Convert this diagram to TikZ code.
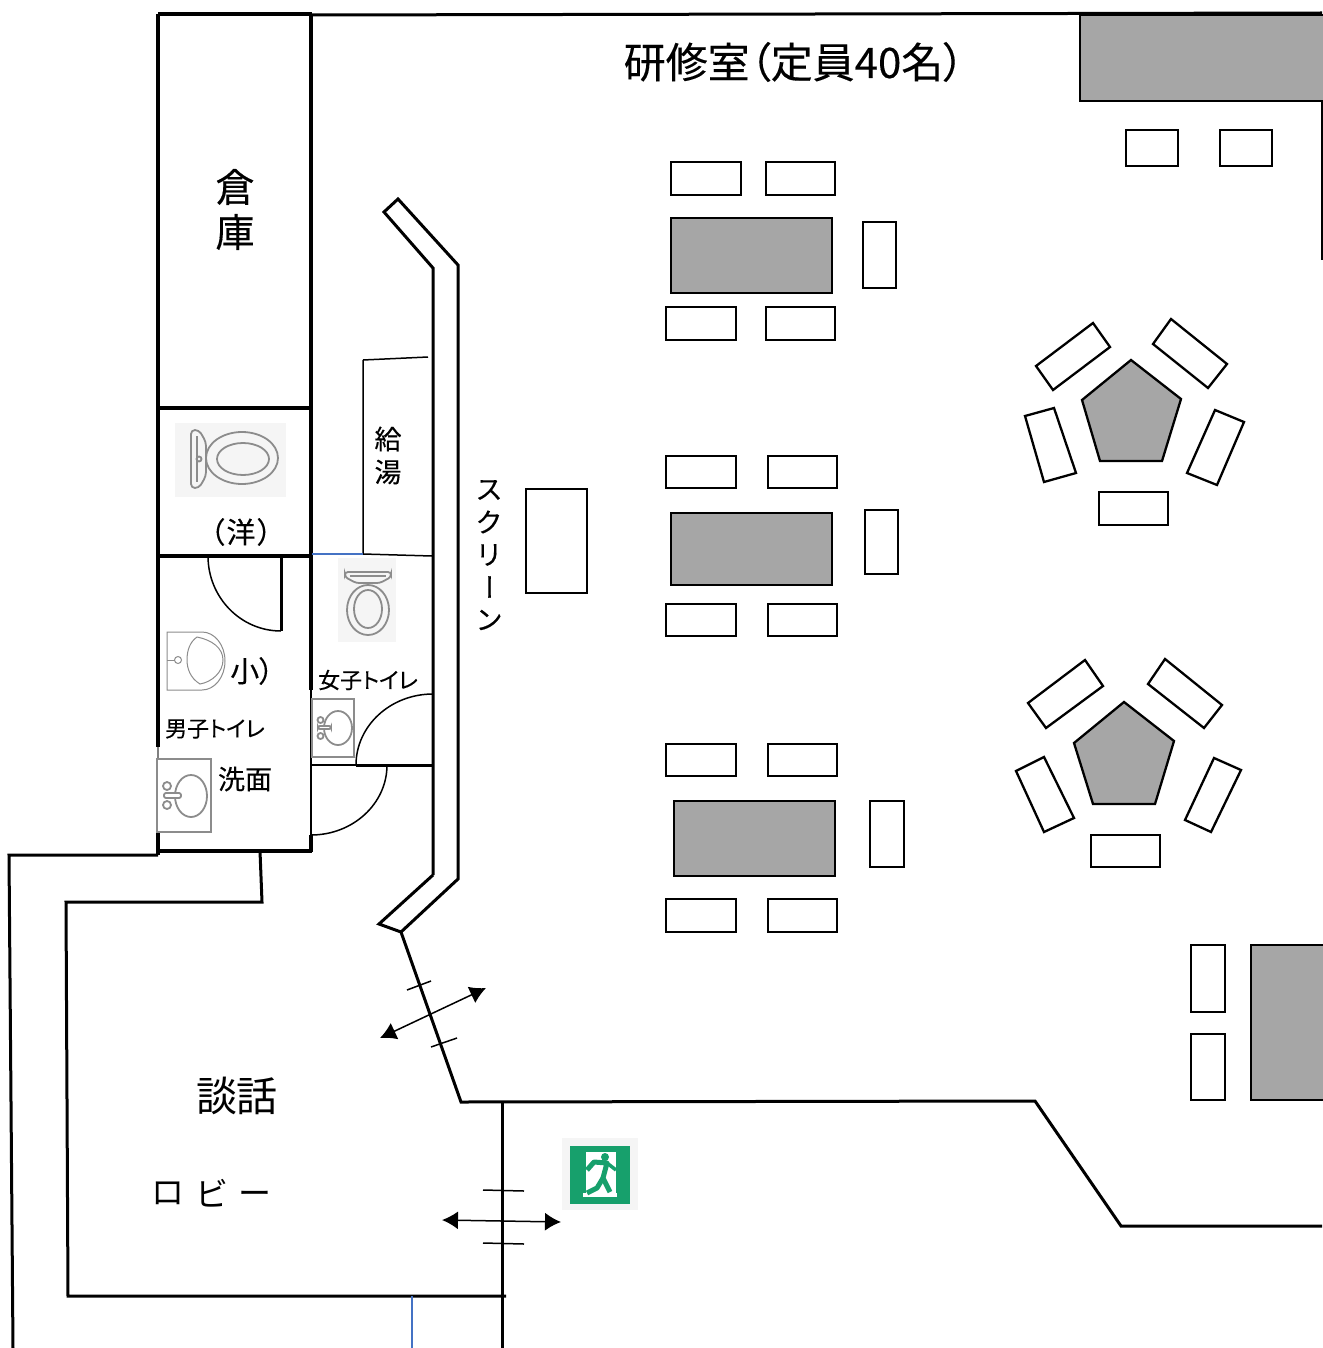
\documentclass[tikz,border=0pt]{standalone}
\usepackage{fontspec}
\usepackage{xcolor}
\usetikzlibrary{arrows.meta}
\setmainfont[FakeBold=0.25]{Noto Sans CJK JP}
\newfontfamily\palted[RawFeature=+palt,FakeBold=0.25]{Noto Sans CJK JP}
\newfontfamily\lighter{Noto Sans CJK JP}
\newcommand{\fs}[1]{\fontsize{#1}{#1}\selectfont}
\definecolor{deskgray}{HTML}{A6A6A6}
\definecolor{imgback}{HTML}{F5F5F5}
\definecolor{imgline}{HTML}{8C8C8C}
\definecolor{exitgreen}{HTML}{17A06C}
\definecolor{pipeblue}{HTML}{4472C4}

\begin{document}
\begin{tikzpicture}[x=1pt,y=-1pt,line join=miter]
	\tikzstyle{heavy}=[draw,line width=3.8pt]
	\tikzstyle{wall}=[draw,line width=3pt]
	\tikzstyle{thin}=[draw,line width=1.5pt]
	\tikzstyle{seat}=[draw,line width=2.3pt,fill=white]
	\tikzstyle{desk}=[draw,line width=2.3pt,fill=deskgray]
	\tikzstyle{fixture}=[draw=imgline,line width=1.8pt]
	\tikzstyle{fine}=[draw=imgline,line width=1pt]
	\tikzstyle{doublearrow}=[draw,line width=1.5pt,{Latex[length=16pt,width=18pt]}-{Latex[length=16pt,width=18pt]}]
	\useasboundingbox (0,0) rectangle (1322,1348);
	
	% storage and toilets
	\draw[heavy] (158,14) -- (312,14);
	\draw[heavy] (158,14) -- (158,747);
	\draw[heavy] (311,14) -- (311,690);
	\draw[thin] (311,690) -- (311,835);
	\draw[heavy] (311,835) -- (311,852);
	\draw[heavy] (158,830) -- (158,855);
	\draw[draw=gray,line width=1.3pt] (158,747) -- (158,830);
	\draw[heavy] (158,408) -- (311,408);
	\draw[heavy] (158,556) -- (311,556);
	\draw[heavy] (158,851) -- (312,851);
	
	% doors
	\draw[wall] (281,556) -- (281,631);
	\draw[thin] (208,556) arc (180:90:73 and 75);
	\draw[wall] (356,765) -- (433,765);
	\draw[thin] (311,765) -- (356,765);
	\draw[thin] (356,765) arc (180:270:77 and 71);
	\draw[thin] (387,765) arc (0:90:76 and 70);
	
	% room outline
	\draw[wall] (312,15) -- (1322,13);
	\draw[wall] (1322,101) -- (1322,260);
	\draw[wall] (158,855) -- (9,855) -- (13,1348);
	\draw[wall] (260,851) -- (262,902) -- (66,902) -- (68,1296) -- (506,1296);
	\draw[wall] (401,932) -- (461,1102) -- (1035,1101) -- (1121,1226) -- (1322,1226);
	\draw[wall] (502,1101) -- (502,1348);
	\draw[draw=pipeblue,line width=1.2pt] (412,1296) -- (412,1348);
	
	% partition behind the screen
	\draw[wall] (433,875) -- (433,268) -- (384,212) -- (398,199) -- (458,265) -- (458,879) -- (401,932) -- (379,924) -- (433,875);
	
	% kitchenette
	\draw[thin] (363,360) -- (428,357);
	\draw[thin] (363,360) -- (363,554) -- (432,556);
	\draw[draw=pipeblue,line width=1.2pt] (312,554) -- (363,554);
	
	% exits
	\draw[thin] (407,990) -- (431,981);
	\draw[thin] (431,1047) -- (457,1038);
	\draw[doublearrow] (380,1038) -- (486,988);
	\draw[thin] (483,1190) -- (524,1191);
	\draw[thin] (483,1243) -- (524,1244);
	\draw[doublearrow] (442,1220) -- (561,1222);
	
	% tables
	\draw[desk] (1080,15) rectangle (1330,101);
	\draw[seat] (1126,130) rectangle (1178,166);
	\draw[seat] (1220,130) rectangle (1272,166);
	
	\draw[desk] (671,218) rectangle (832,293);
	\draw[seat] (671,162) rectangle (741,195);
	\draw[seat] (766,162) rectangle (835,195);
	\draw[seat] (666,307) rectangle (736,340);
	\draw[seat] (766,307) rectangle (835,340);
	\draw[seat] (863,222) rectangle (896,288);
	
	\draw[desk] (671,513) rectangle (832,585);
	\draw[seat] (666,456) rectangle (736,488);
	\draw[seat] (768,456) rectangle (837,488);
	\draw[seat] (666,604) rectangle (736,636);
	\draw[seat] (768,604) rectangle (837,636);
	\draw[seat] (865,510) rectangle (898,574);
	
	\draw[desk] (674,801) rectangle (835,876);
	\draw[seat] (666,744) rectangle (736,776);
	\draw[seat] (768,744) rectangle (837,776);
	\draw[seat] (666,899) rectangle (736,932);
	\draw[seat] (768,899) rectangle (837,932);
	\draw[seat] (870,801) rectangle (904,867);
	
	\draw[desk] (1251,945) rectangle (1330,1100);
	\draw[seat] (1191,945) rectangle (1225,1012);
	\draw[seat] (1191,1034) rectangle (1225,1100);
	
	\draw[seat] (526,489) rectangle (587,593);
	
	% pentagon tables
	\draw[desk] (1131,360) -- (1181,399) -- (1162,461) -- (1100,461) -- (1082,400) -- cycle;
	\draw[seat] (1093,323) -- (1110,347) -- (1053,390) -- (1036,366) -- cycle;
	\draw[seat] (1171,319) -- (1227,364) -- (1208,388) -- (1153,344) -- cycle;
	\draw[seat] (1025,416) -- (1054,408) -- (1076,473) -- (1044,482) -- cycle;
	\draw[seat] (1215,410) -- (1244,422) -- (1217,485) -- (1187,473) -- cycle;
	\draw[seat] (1099,492) rectangle (1168,525);
	
	\draw[desk] (1124,702) -- (1174,741) -- (1155,804) -- (1093,804) -- (1074,743) -- cycle;
	\draw[seat] (1085,660) -- (1103,686) -- (1046,728) -- (1028,703) -- cycle;
	\draw[seat] (1165,659) -- (1222,705) -- (1204,728) -- (1148,684) -- cycle;
	\draw[seat] (1016,771) -- (1044,757) -- (1074,818) -- (1044,832) -- cycle;
	\draw[seat] (1214,758) -- (1241,770) -- (1211,832) -- (1185,820) -- cycle;
	\draw[seat] (1091,835) rectangle (1160,867);
	
	% western toilet
	\fill[imgback] (175,423) rectangle (286,497);
	\draw[fixture] (242,458) ellipse (36 and 26);
	\draw[fixture] (243,459) ellipse (26 and 16);
	\draw[fixture,fill=imgback,rounded corners=4pt] (191,430) -- (199,430) -- (206,442) -- (206,476) -- (199,488) -- (191,488) -- cycle;
	\draw[fixture] (197,436) -- (197,482);
	\draw[fixture] (199,459) circle (2.5);
	
	% womens toilet
	\fill[imgback] (338,558) rectangle (396,642);
	\draw[fixture] (368,610) ellipse (21 and 25);
	\draw[fixture] (368,609) ellipse (14 and 19);
	\draw[fixture,fill=imgback,rounded corners=3pt] (345,572) -- (391,572) -- (391,577) -- (380,583) -- (356,583) -- (345,577) -- cycle;
	\draw[fixture] (350,576) -- (386,576);
	
	% urinal
	\draw[fine] (167,632) -- (202,632) arc (-90:90:23 and 29) -- (167,690) -- cycle;
	\draw[fine] (197,637) .. controls (212,640) and (223,648) .. (223,660) .. controls (223,672) and (212,682) .. (200,684) .. controls (190,678) and (187,668) .. (187,660) .. controls (187,650) and (190,642) .. (197,637);
	\draw[fine] (167,660) -- (174.5,660);
	\draw[fine] (178,660) circle (3.5);
	
	% washbasins
	\fill[white] (157,759) rectangle (211,832);
	\draw[fixture] (157,759) rectangle (211,832);
	\draw[fixture] (191,796) ellipse (16 and 21);
	\draw[fixture] (167,786) circle (4);
	\draw[fixture] (167,805) circle (4);
	\draw[fixture,fill=white,rounded corners=2pt] (164,793) rectangle (181,798);
	
	\draw[fixture] (312,699) rectangle (354,757);
	\draw[fixture] (338,728) ellipse (14 and 17);
	\draw[fixture] (320.5,720) circle (3);
	\draw[fixture] (320.5,736) circle (3);
	\draw[fixture,fill=white,rounded corners=2pt] (318,726) rectangle (331,729);
	
	% exit sign
	\fill[imgback] (562,1138) rectangle (638,1210);
	\fill[exitgreen] (570,1146) rectangle (630,1204);
	\fill[white] (586,1152) rectangle (616,1193);
	\fill[white] (583,1193) rectangle (617,1197);
	\fill[exitgreen] (605,1157) circle (4);
	\draw[draw=exitgreen,line width=5pt,line join=round] (587,1170) -- (594,1162) -- (607,1163) -- (603,1178) -- (610,1192);
	\draw[draw=exitgreen,line width=3.5pt,line join=round] (607,1163) -- (616,1170);
	\draw[draw=exitgreen,line width=5pt,line join=round] (603,1178) -- (597,1188) -- (587,1193);
	
	% labels
	\node[font=\palted\fs{42}] (title) at (794,62) {研修室（定員40名）};
	\node[font=\fs{39}] (storeA) at (235,187) {倉};
	\node[font=\fs{39}] (storeB) at (235,232) {庫};
	\node[font=\fs{27}] (kyuA) at (388,439) {給};
	\node[font=\fs{27}] (kyuB) at (388,472) {湯};
	\node[font=\palted\fs{29}] (westlabel) at (241,532) {（\hspace{2pt}洋\hspace{2pt}）};
	\node[font=\palted\fs{29}] (smalllabel) at (252,671) {小）};
	\node[font=\palted\fs{22}] (womenlabel) at (368,680) {女子トイレ};
	\node[font=\palted\fs{22}] (menlabel) at (215,729) {男子トイレ};
	\node[font=\fs{27}] (washlabel) at (245,779) {洗面};
	\node[font=\fs{27}] (scrA) at (489,490) {ス};
	\node[font=\fs{27}] (scrB) at (489,522) {ク};
	\node[font=\fs{27}] (scrC) at (489,555) {リ};
	\node[font=\fs{27},rotate=-90] (scrD) at (485,587) {ー};
	\node[font=\fs{27}] (scrE) at (489,620) {ン};
	\node[font=\lighter\fs{41}] (talkA) at (216.5,1096) {談};
	\node[font=\lighter\fs{41}] (talkB) at (257,1096) {話};
	\node[font=\lighter\fs{33}] (lobbyA) at (168,1193) {ロ};
	\node[font=\lighter\fs{33}] (lobbyB) at (212,1193) {ビ};
	\node[font=\lighter\fs{33}] (lobbyC) at (255,1198) {ー};
\end{tikzpicture}
\end{document}
